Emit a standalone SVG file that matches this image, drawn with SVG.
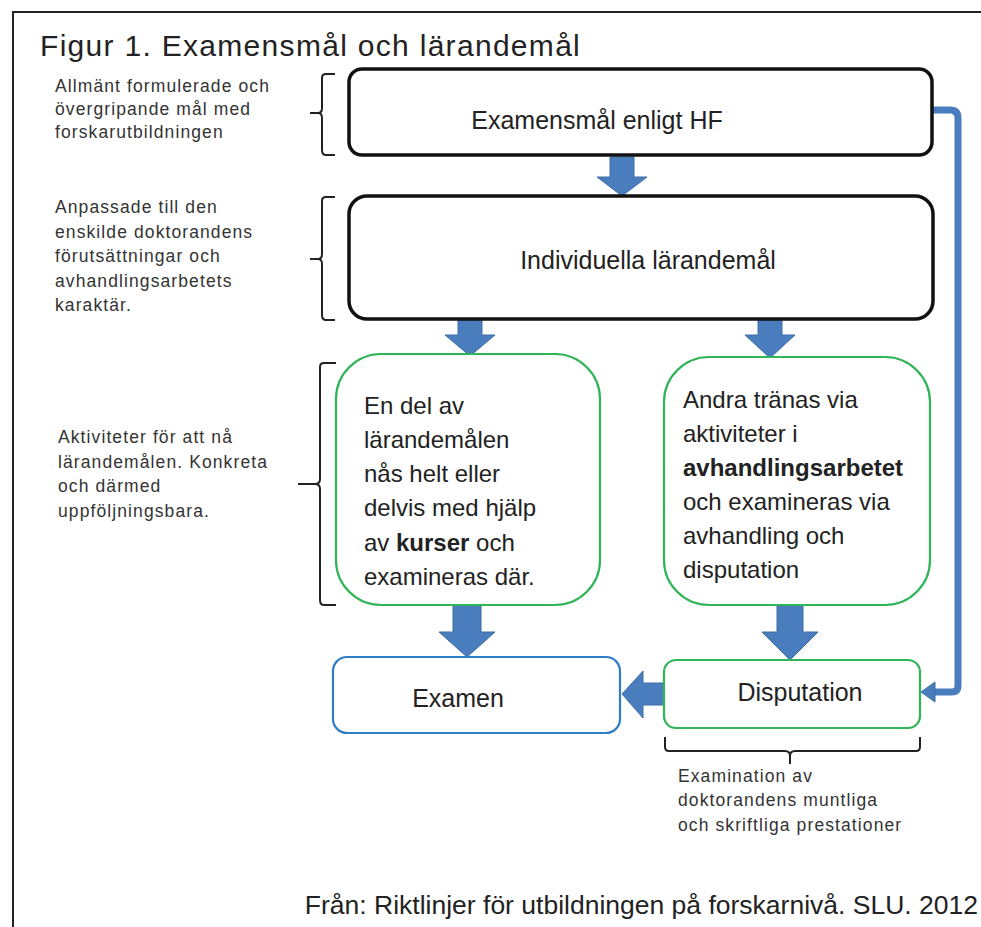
<svg xmlns="http://www.w3.org/2000/svg" width="981" height="927" viewBox="0 0 981 927">
<style>
.t{font-family:"Liberation Sans",Arial,sans-serif;fill:#222}
.note{font-family:"Liberation Sans",Arial,sans-serif;fill:#333;font-size:17.5px;letter-spacing:1.1px}
.big{font-size:25px}
.g{font-size:24px}
.blk{fill:none;stroke:#111;stroke-width:3.5}
.grn{fill:#fff;stroke:#2fb457;stroke-width:2.2}
.blu{fill:#fff;stroke:#2f7dc4;stroke-width:2.2}
.arr{fill:#4a7dbe;stroke:#3e6ea8;stroke-width:1}
.brace{fill:none;stroke:#222;stroke-width:2}
</style>
<rect width="981" height="927" fill="#fff"/>
<path d="M13,927 V12 H981" fill="none" stroke="#222" stroke-width="2"/>
<text class="t" x="40" y="56" font-size="30" letter-spacing="1.3">Figur 1. Examensmål och lärandemål</text>

<g id="notes">
<text class="note" x="55" y="92">Allmänt formulerade och</text>
<text class="note" x="55" y="115">övergripande mål med</text>
<text class="note" x="55" y="138">forskarutbildningen</text>
<text class="note" x="55" y="213">Anpassade till den</text>
<text class="note" x="55" y="238">enskilde doktorandens</text>
<text class="note" x="55" y="262">förutsättningar och</text>
<text class="note" x="55" y="287">avhandlingsarbetets</text>
<text class="note" x="55" y="311">karaktär.</text>
<text class="note" x="58" y="443">Aktiviteter för att nå</text>
<text class="note" x="58" y="468">lärandemålen.  Konkreta</text>
<text class="note" x="58" y="492">och därmed</text>
<text class="note" x="58" y="517">uppföljningsbara.</text>
<text class="note" x="678" y="782">Examination av</text>
<text class="note" x="678" y="806">doktorandens muntliga</text>
<text class="note" x="678" y="831">och skriftliga prestationer</text>
</g>

<g id="braces">
<path class="brace" d="M335,74 H326 Q322,74 322,78 V108 Q322,113 318,113 H310 M318,113 Q322,113 322,118 V150 Q322,155 326,155 H335"/>
<path class="brace" d="M335,197 H326 Q322,197 322,201 V254 Q322,259 318,259 H310 M318,259 Q322,259 322,264 V315 Q322,320 326,320 H335"/>
<path class="brace" d="M336,363 H324 Q320,363 320,367 V479 Q320,484 315,484 H298 M315,484 Q320,484 320,489 V600 Q320,605 324,605 H336"/>
<path class="brace" d="M665,737 V747 Q665,751 669,751 H785 Q790,751 790,756 V764 M790,756 Q790,751 795,751 H916 Q920,751 920,747 V737"/>
</g>

<g id="connectors">
<path class="arr" d="M610,157 H634 V177 H647 L622,196 L597,177 H610 Z"/>
<path class="arr" d="M458,319 H482 V335 H495 L470,356 L445,335 H458 Z"/>
<path class="arr" d="M758,319 H782 V335 H795 L770,358 L745,335 H758 Z"/>
<path class="arr" d="M453,605 H481 V632 H495 L467,657 L439,632 H453 Z"/>
<path class="arr" d="M777,605 H803 V632 H818 L790,660 L762,632 H777 Z"/>
<path class="arr" d="M664,683 V705 H643 V718 L622,694 L643,671 V683 Z"/>
<path d="M932,110 H950 Q958,110 958,118 V686 Q958,692 952,692 H933" fill="none" stroke="#4a7dbe" stroke-width="7"/>
<path class="arr" d="M921,692 L935,682 V702 Z"/>
</g>

<g id="n1">
<rect class="blk" x="349" y="69" width="583" height="86" rx="13"/>
<text class="t big" x="597" y="129" text-anchor="middle">Examensmål enligt HF</text>
</g>
<g id="n2">
<rect class="blk" x="349" y="196" width="584" height="123" rx="18"/>
<text class="t big" x="648" y="269" text-anchor="middle">Individuella lärandemål</text>
</g>
<g id="n3">
<rect class="grn" x="336" y="354" width="264" height="251" rx="45"/>
<text class="t g" x="364" y="414">En del av</text>
<text class="t g" x="364" y="448">lärandemålen</text>
<text class="t g" x="364" y="482">nås helt eller</text>
<text class="t g" x="364" y="516">delvis med hjälp</text>
<text class="t g" x="364" y="551">av <tspan font-weight="bold">kurser</tspan> och</text>
<text class="t g" x="364" y="585">examineras där.</text>
</g>
<g id="n4">
<rect class="grn" x="664" y="357" width="266" height="248" rx="45"/>
<text class="t g" x="683" y="408">Andra tränas via</text>
<text class="t g" x="683" y="442">aktiviteter i</text>
<text class="t g" x="683" y="476" font-weight="bold" font-size="23">avhandlingsarbetet</text>
<text class="t g" x="683" y="510">och examineras via</text>
<text class="t g" x="683" y="544">avhandling och</text>
<text class="t g" x="683" y="578">disputation</text>
</g>
<g id="n5">
<rect class="blu" x="333" y="657" width="287" height="76" rx="14"/>
<text class="t big" x="458" y="707" text-anchor="middle">Examen</text>
</g>
<g id="n6">
<rect class="grn" x="664" y="660" width="256" height="68" rx="12"/>
<text class="t big" x="800" y="701" text-anchor="middle">Disputation</text>
</g>
<text class="t" font-size="26.5" x="978" y="914" text-anchor="end">Från: Riktlinjer för utbildningen på forskarnivå. SLU. 2012</text>
</svg>
